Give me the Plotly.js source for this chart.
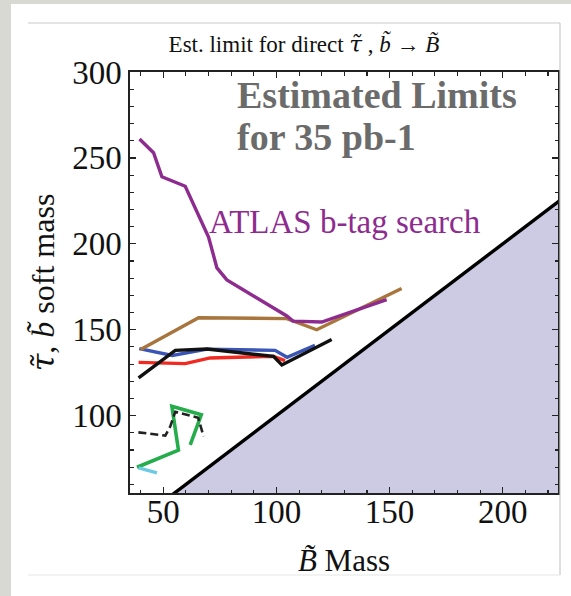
<!DOCTYPE html>
<html>
<head>
<meta charset="utf-8">
<script src="https://cdn.plot.ly/plotly-3.0.1.min.js"></script>
<style>
  html, body { margin: 0; padding: 0; width: 571px; height: 596px; overflow: hidden; background: #d9d9d3; }
  #panel { position: absolute; left: 11px; top: 4px; width: 560px; height: 592px; background: #ffffff; }
  #plot { position: absolute; left: 0; top: 0; width: 571px; height: 596px; }
</style>
</head>
<body>
<div id="panel"></div>
<div id="plot"></div>
<script>
// ---- data ----
const limitX = [30, 240];            // kinematic boundary: soft mass = B~ mass
const limitY = [30, 240];
const shadeX = [55, 240, 240];
const shadeY = [55, 240, 55];

const purpleX = [39.5, 45.7, 49.4, 59.7, 70.0, 73.7, 78.1, 104.6, 107.3, 120.0, 148.7];
const purpleY = [261, 253, 239, 233.5, 204, 186, 179, 158, 155, 154.5, 167.5];

const brownX = [40.0, 65.6, 104.6, 117.8, 155.3];
const brownY = [138.5, 157, 156.5, 150, 174];

const blueX = [39.4, 54.0, 69.4, 99.4, 104.7, 117.0];
const blueY = [139, 135, 138.7, 138, 134, 141];

const redX = [39.1, 59.7, 70.7, 98.7, 103.8];
const redY = [131, 130.3, 133.6, 134.5, 132];

const blackX = [39.1, 55.3, 69.3, 98.7, 102.4, 124.4];
const blackY = [122, 138, 138.8, 134.5, 129.5, 144.3];

const greenX = [38.4, 56.7, 53.8, 66.8, 61.9];
const greenY = [70, 80, 105.5, 100.5, 83];

const dashedX = [39.0, 50.9, 53.1, 55.3, 65.4, 67.8];
const dashedY = [90.3, 88.4, 93.8, 102.3, 98.8, 88];

const cyanX = [39.1, 47.2];
const cyanY = [69.6, 66.7];

const xTicks = [50, 100, 150, 200];
const yTicks = [100, 150, 200, 250, 300];

const serif = "Liberation Serif, Times New Roman, serif";
const tl = (s) => '<span style="font-family:DejaVu Serif">' + s + '</span>';

function line(x, y, color, width, dash) {
  return { x: x, y: y, mode: 'lines', type: 'scatter', hoverinfo: 'skip',
           line: { color: color, width: width, dash: dash || 'solid' } };
}

const traces = [
  { x: shadeX, y: shadeY, mode: 'lines', type: 'scatter', fill: 'toself',
    fillcolor: '#cdcae3', line: { width: 0, color: 'rgba(0,0,0,0)' }, hoverinfo: 'skip' },
  line(limitX, limitY, '#000000', 3.4),
  line(redX, redY, '#f02a20', 3.4),
  line(blueX, blueY, '#3a55b5', 3.4),
  line(brownX, brownY, '#a8753c', 3.4),
  line(purpleX, purpleY, '#8e2b8f', 3.4),
  line(blackX, blackY, '#111111', 3.4),
  line(greenX, greenY, '#24ad4a', 3.6),
  line(dashedX, dashedY, '#222222', 2.6, '8px,4px'),
  line(cyanX, cyanY, '#6ccbe3', 3.4)
];

const axisCommon = {
  showgrid: false, zeroline: false, showline: true, linecolor: '#222', linewidth: 1.6,
  mirror: 'allticks', ticks: 'inside', ticklen: 6, tickwidth: 1.3, tickcolor: '#222',
  tickfont: { family: serif, size: 33, color: '#111' },
  minor: { dtick: 10, ticks: 'inside', ticklen: 3.5, tickwidth: 1.1, tickcolor: '#222' }
};

const layout = {
  width: 571, height: 596,
  margin: { l: 130, r: 13, t: 72, b: 103 },
  paper_bgcolor: 'rgba(0,0,0,0)', plot_bgcolor: '#ffffff',
  showlegend: false,
  title: { text: 'Est. limit for direct <i>' + tl('τ̃') + '</i> , <i>b̃</i> → <i>B̃</i>',
           font: { family: serif, size: 23, color: '#111' },
           xref: 'container', yref: 'container', x: 304 / 571, y: 1 - 44 / 596,
           xanchor: 'center', yanchor: 'middle' },
  xaxis: Object.assign({}, axisCommon, {
    range: [35.3, 224.4], tickmode: 'array', tickvals: xTicks, ticktext: xTicks.map(String),
    ticklabelstandoff: -11,
    title: { text: '<i>B̃</i> Mass', font: { family: serif, size: 31, color: '#111' }, standoff: 20 }
  }),
  yaxis: Object.assign({}, axisCommon, {
    range: [55, 300], tickmode: 'array', tickvals: yTicks, ticktext: yTicks.map(String),
    title: { text: '<i>' + tl('τ̃') + '</i>, <i>b̃</i> soft mass', font: { family: serif, size: 32, color: '#111' }, standoff: 8 }
  }),
  annotations: [
    { xref: 'paper', yref: 'paper', x: (235 - 130) / 428, y: (493 - 95) / 421,
      xanchor: 'left', yanchor: 'middle', showarrow: false,
      text: '<b>Estimated Limits</b>', font: { family: serif, size: 38, color: '#6b6b6b' } },
    { xref: 'paper', yref: 'paper', x: (235 - 130) / 428, y: (493 - 137) / 421,
      xanchor: 'left', yanchor: 'middle', showarrow: false,
      text: '<b>for 35 pb-1</b>', font: { family: serif, size: 38, color: '#6b6b6b' } },
    { xref: 'paper', yref: 'paper', x: (207 - 130) / 428, y: (493 - 222) / 421,
      xanchor: 'left', yanchor: 'middle', showarrow: false,
      text: 'ATLAS b-tag search', font: { family: serif, size: 33, color: '#8e2b8f' } }
  ],
  shapes: [
    { type: 'line', xref: 'paper', yref: 'paper', x0: (28 - 130) / 428, x1: (560 - 130) / 428,
      y0: (493 - 23) / 421, y1: (493 - 23) / 421, line: { color: '#c9c9c9', width: 1.2 } },
    { type: 'line', xref: 'paper', yref: 'paper', x0: (560 - 130) / 428, x1: (560 - 130) / 428,
      y0: (493 - 23) / 421, y1: (493 - 575) / 421, line: { color: '#c9c9c9', width: 1.2 } },
    { type: 'line', xref: 'paper', yref: 'paper', x0: (28 - 130) / 428, x1: (560 - 130) / 428,
      y0: (493 - 575) / 421, y1: (493 - 575) / 421, line: { color: '#e6e6e6', width: 1.2 } }
  ]
};

Plotly.newPlot('plot', traces, layout, { displayModeBar: false, staticPlot: true });
</script>
</body>
</html>
